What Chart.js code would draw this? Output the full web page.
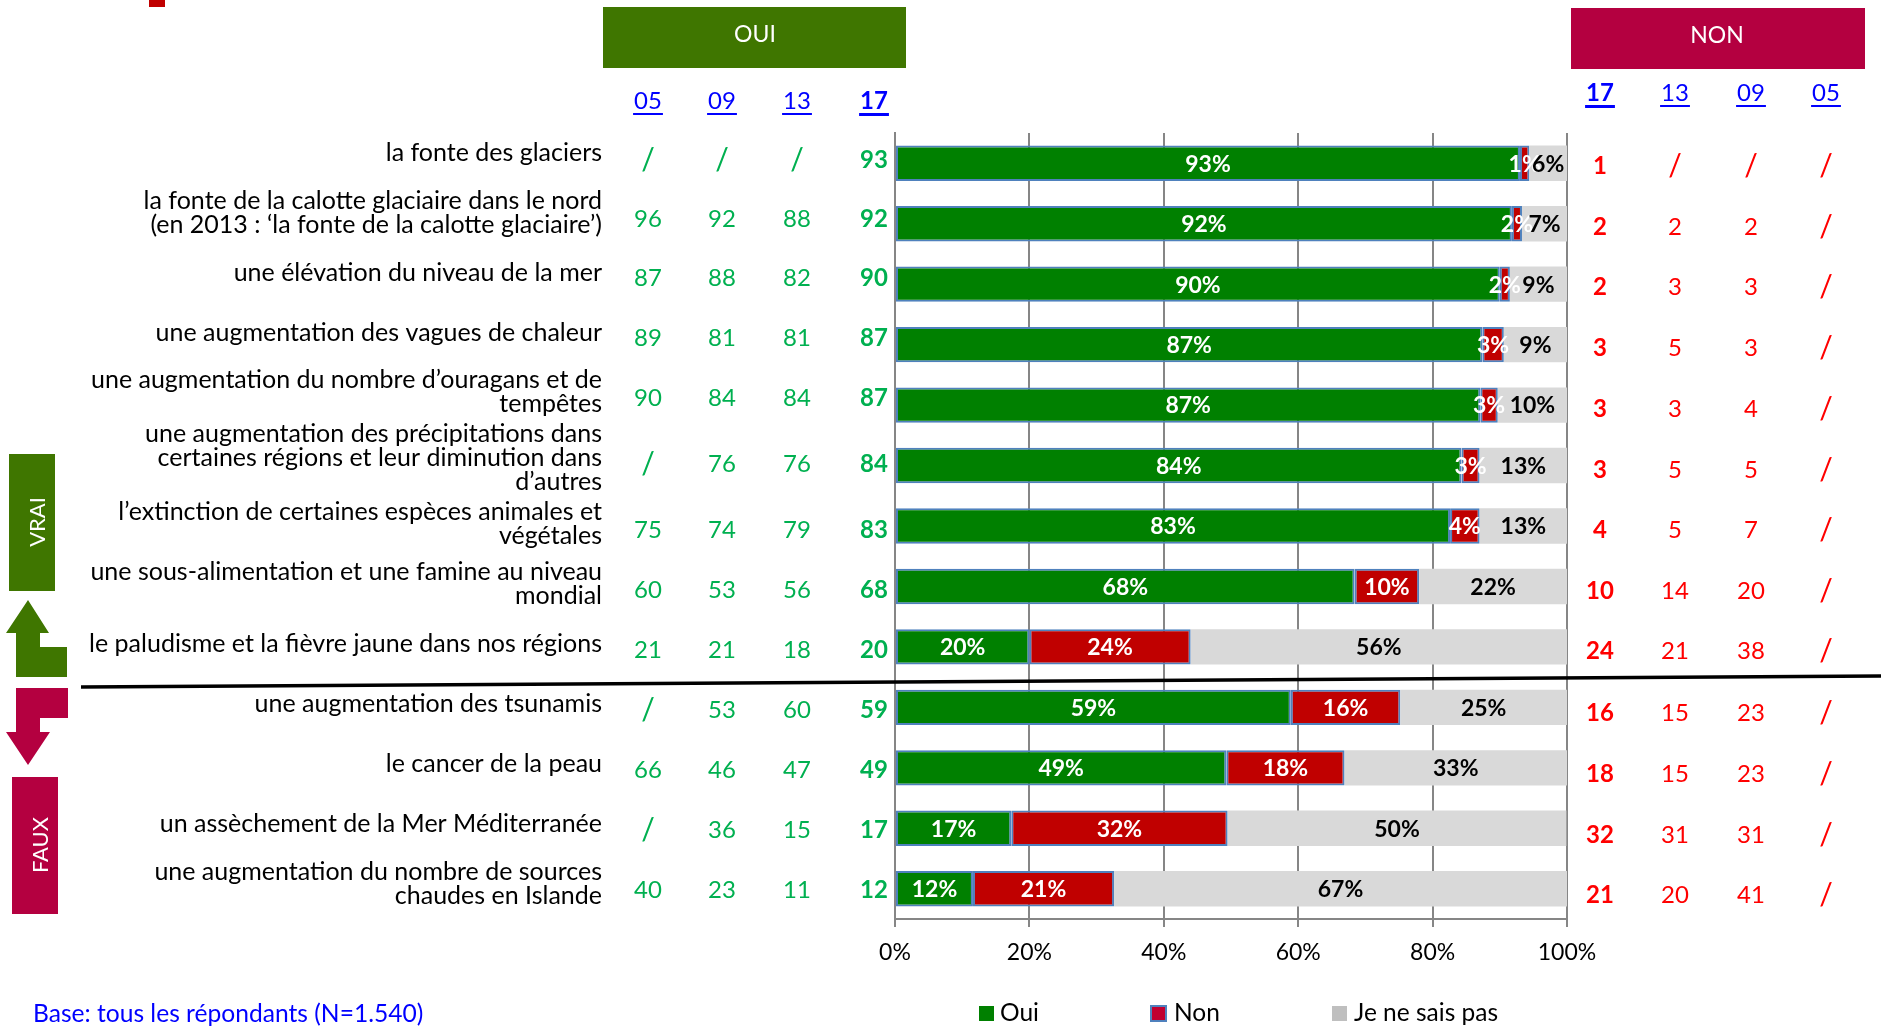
<!DOCTYPE html>
<html><head><meta charset="utf-8">
<style>html,body{margin:0;padding:0;background:#fff}canvas{display:block}</style>
<script src="https://cdn.jsdelivr.net/npm/chart.js@4"></script></head>
<body><canvas id="c" width="1881" height="1026"></canvas>
<script>
const categories = [
 "la fonte des glaciers",
 ["la fonte de la calotte glaciaire dans le nord","(en 2013 : ‘la fonte de la calotte glaciaire’)"],
 "une élévation du niveau de la mer",
 "une augmentation des vagues de chaleur",
 ["une augmentation du nombre d’ouragans et de","tempêtes"],
 ["une augmentation des précipitations dans","certaines régions et leur diminution dans","d’autres"],
 ["l’extinction de certaines espèces animales et","végétales"],
 ["une sous-alimentation et une famine au niveau","mondial"],
 "le paludisme et la fièvre jaune dans nos régions",
 "une augmentation des tsunamis",
 "le cancer de la peau",
 "un assèchement de la Mer Méditerranée",
 ["une augmentation du nombre de sources","chaudes en Islande"]
];
const oui = [93,91.8,90,87.4,87.1,84.3,82.6,68.4,20,58.9,49.3,17.3,11.6];
const non = [1.4,1.5,1.5,3.2,2.6,2.7,4.4,9.6,24,16.3,17.6,32.2,21];
const nsp = [5.6,6.7,8.5,9.4,10.3,13,13,22,56,24.8,33.1,50.4,67.4];
const seriesNames = ["Oui","Non","Je ne sais pas"];
const tableYears = ["05","09","13","17"];
const oui05 = ["/","96","87","89","90","/","75","60","21","/","66","/","40"];
const oui09 = ["/","92","88","81","84","76","74","53","21","53","46","36","23"];
const oui13 = ["/","88","82","81","84","76","79","56","18","60","47","15","11"];
const oui17 = ["93","92","90","87","87","84","83","68","20","59","49","17","12"];
const non17 = ["1","2","2","3","3","3","4","10","24","16","18","32","21"];
const non13 = ["/","2","3","5","3","5","5","14","21","15","15","31","20"];
const non09 = ["/","2","3","3","4","5","7","20","38","23","23","31","41"];
const non05 = ["/","/","/","/","/","/","/","/","/","/","/","/","/"];
const baseNote = "Base: tous les répondants (N=1.540)";

const FONT = 'Lato';
const C = {green:'#008000',red:'#C00000',grey:'#D9D9D9',edge:'#4F81BD',axis:'#868686',
  oui:'#3F7600',nonH:'#B40040',tg:'#00B050',tr:'#FF0000',blue:'#0000FF'};
// table and label row positions (layout only)
const labelRowY = [153,213,273,333,392,458,524,584,644,704,764,824,884];
const greenRowY = [160,219,278,338,398,464,530,590,650,710,770,830,890];
const redRowY   = [166,227,287,348,409,470,530,591,651,713,774,835,895];
const greenColX = [648,722,797,874];
const redColX   = [1600,1675,1751,1826];

function txt(ctx,s,x,y,font,color,align='center'){
  ctx.font=font;ctx.fillStyle=color;ctx.textAlign=align;ctx.textBaseline='middle';ctx.fillText(s,x,y);
}
function poly(ctx,pts,color){
  ctx.fillStyle=color;ctx.beginPath();pts.forEach((p,i)=>i?ctx.lineTo(p[0],p[1]):ctx.moveTo(p[0],p[1]));ctx.closePath();ctx.fill();
}
function header(ctx,s,x,y,bold){
  const f=(bold?'bold ':'')+'24px '+FONT;
  txt(ctx,s,x,y,f,C.blue);
  const w=ctx.measureText(s).width;
  ctx.fillStyle=C.blue;ctx.fillRect(x-w/2-1,y+12,w+2,bold?3:2);
}
function cellFont(v,bold){
  return v==='/' ? '30px '+FONT : (bold?'bold ':'')+'24px '+FONT;
}
const labelRows={id:'labelRows',beforeDraw(chart){
  const s=chart.scales.y;
  s.getLabelItems().forEach((it,i)=>{
    it.options.translation[1]+=labelRowY[i]-s.getPixelForTick(i);
  });
}};
const segmentLabels={id:'segmentLabels',afterDatasetsDraw(chart){
  const ctx=chart.ctx;ctx.save();
  chart.data.datasets.forEach((ds,d)=>{
    chart.getDatasetMeta(d).data.forEach((b,i)=>{
      const cx=(b.base+b.x)/2;
      txt(ctx,Math.round(ds.data[i])+'%',cx,b.y+1,'bold 23px '+FONT,d==2?'#000':'#fff');
    });
  });
  ctx.restore();
}};
const decor={id:'decor',afterDraw(chart){
  const ctx=chart.ctx;ctx.save();
  // header bands
  ctx.fillStyle=C.oui;ctx.fillRect(603,7,303,61);
  ctx.fillStyle=C.nonH;ctx.fillRect(1571,8,294,61);
  txt(ctx,'OUI',755,35,'23px '+FONT,'#fff');
  txt(ctx,'NON',1717,36,'23px '+FONT,'#fff');
  ctx.fillStyle=C.red;ctx.fillRect(149,0,16,7);
  // year headers
  tableYears.forEach((y,i)=>header(ctx,y,greenColX[i],101,i==3));
  [...tableYears].reverse().forEach((y,i)=>header(ctx,y,redColX[i],93,i==0));
  // value columns
  [oui05,oui09,oui13,oui17].forEach((col,c)=>col.forEach((v,i)=>
    txt(ctx,v,greenColX[c],greenRowY[i],cellFont(v,c==3),C.tg)));
  [non17,non13,non09,non05].forEach((col,c)=>col.forEach((v,i)=>
    txt(ctx,v,redColX[c],redRowY[i],cellFont(v,c==0),C.tr)));
  // separator
  ctx.strokeStyle='#000';ctx.lineWidth=3.5;ctx.beginPath();ctx.moveTo(81,687);ctx.lineTo(1881,676);ctx.stroke();
  // side panels
  ctx.fillStyle=C.oui;ctx.fillRect(9,454,46,137);
  ctx.fillStyle=C.nonH;ctx.fillRect(12,777,46,137);
  [['VRAI',38,522],['FAUX',41,845]].forEach(([s,x,y])=>{
    ctx.save();ctx.translate(x,y);ctx.rotate(-Math.PI/2);txt(ctx,s,0,0,'22px '+FONT,'#fff');ctx.restore();
  });
  poly(ctx,[[28,600],[49,633],[40,633],[40,647],[67,647],[67,677],[16,677],[16,633],[6,633]],C.oui);
  poly(ctx,[[16,688],[68,688],[68,718],[40,718],[40,732],[50,732],[28,765],[6,732],[16,732]],C.nonH);
  // note
  txt(ctx,baseNote,33,1014,'24.6px '+FONT,C.blue,'left');
  // legend
  const lg=[[979,1000,C.green,null],[1151,1174,'#C00030',C.edge],[1332,1354,'#BFBFBF',null]];
  lg.forEach((l,i)=>{
    ctx.fillStyle=l[2];ctx.fillRect(l[0],1006,15,15);
    if(l[3]){ctx.strokeStyle=l[3];ctx.lineWidth=2;ctx.strokeRect(l[0],1006,15,15);}
    txt(ctx,seriesNames[i],l[1],1013,'24.5px '+FONT,'#000','left');
  });
  ctx.restore();
}};
const mk=(label,data,color,bw)=>({label,data,backgroundColor:color,borderColor:C.edge,borderWidth:bw,borderSkipped:false,
  categoryPercentage:1,barPercentage:0.585});
new Chart(document.getElementById('c'),{
  type:'bar',
  data:{labels:categories,datasets:[mk(seriesNames[0],oui,C.green,2),mk(seriesNames[1],non,C.red,2),mk(seriesNames[2],nsp,C.grey,0)]},
  options:{indexAxis:'y',responsive:false,animation:false,
    layout:{padding:{left:0,top:133,right:314,bottom:0}},
    plugins:{legend:{display:false},tooltip:{enabled:false}},
    scales:{
      x:{stacked:true,min:0,max:100,
        grid:{color:C.axis,lineWidth:2,tickLength:8,tickColor:C.axis},
        border:{display:true,color:C.axis,width:2},
        ticks:{stepSize:20,padding:12,color:'#000',font:{family:FONT,size:23},maxRotation:0,callback:v=>v+'%'},
        afterFit(s){s.height=107;s.paddingLeft=0;s.paddingRight=0;}},
      y:{stacked:true,
        grid:{display:false},
        border:{display:true,color:C.axis,width:2},
        ticks:{autoSkip:false,padding:285,color:'#000',font:{family:FONT,size:25,lineHeight:0.96},crossAlign:'near'},
        afterFit(s){s.width=895;s.paddingTop=0;s.paddingBottom=0;}}
    }},
  plugins:[labelRows,segmentLabels,decor]
});
</script></body></html>
